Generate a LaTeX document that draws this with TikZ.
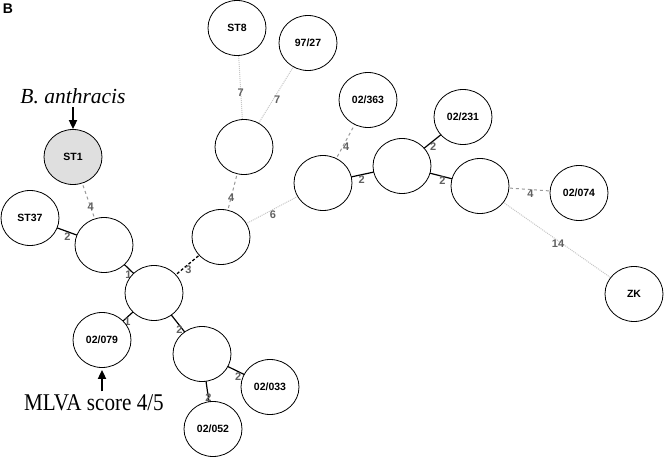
\documentclass[tikz,border=0pt]{standalone}
\usepackage{fontspec}
\setmainfont{Liberation Serif}
\setsansfont{Liberation Sans}
\usetikzlibrary{positioning, arrows.meta, shapes.geometric, backgrounds}

\begin{document}
\begin{tikzpicture}[x=1pt, y=-1pt,
    every isolate/.style={ellipse, draw, fill=white, line width=0.8pt, minimum width=58pt, minimum height=55pt, inner sep=0pt, font=\sffamily\bfseries\fontsize{10.5}{12}\selectfont},
    weight/.style={font=\sffamily\bfseries\fontsize{11}{12}\selectfont, text=gray!75!black, inner sep=0pt},
    close link/.style={line width=1.2pt, black},
    near link/.style={densely dashed, line width=1.3pt, black},
    mid link/.style={dashed, line width=1pt, gray!80},
    far link/.style={densely dotted, line width=1pt, gray!45},
    pointer/.style={-{Triangle[length=9pt, width=8pt]}, line width=1.8pt}]

    \useasboundingbox (0,0) rectangle (664,457);

    % Panel letter
    \node[font=\sffamily\bfseries\fontsize{14}{16}\selectfont] (panel) at (8,9) {B};

    % Reference strain - shaded node
    \node[every isolate, fill=gray!25] (st1) at (73,157) {ST1};

    % Named isolates
    \foreach \n/\x/\y/\t in {st37/30/218/ST37, o079/102/340/{02/079}, o033/270/387/{02/033},
        o052/213/429/{02/052}, st8/237/28/ST8, o9727/308/43/{97/27}, o363/368/100/{02/363},
        o231/463/117/{02/231}, o074/579/193/{02/074}, zk/634/294/ZK}
        \node[every isolate] (\n) at (\x,\y) {\t};

    % Unnamed nodes of the tree
    \foreach \n/\x/\y in {nA/104/245, hub/154/293, nB/202/354, nC/221/237,
        nD/244/147, nE/323/183, nF/402/166, nG/480/186}
        \node[every isolate] (\n) at (\x,\y) {};

    % Links with their distances
    \begin{scope}[on background layer]
    \foreach \a/\b/\s/\p/\w/\dx/\dy in {st1/nA/mid link/.57/4/0/0, st37/nA/close link/.52/2/-1/5,
        nA/hub/close link/.55/1/-3/3, hub/o079/close link/.55/1/2/3, hub/nB/close link/.57/2/-2/2,
        nB/o033/close link/.56/2/-2/4, nB/o052/close link/.58/2/0/0, hub/nC/near link/.47/3/3/3,
        nC/nD/mid link/.44/4/0/0, nC/nE/far link/.49/6/2/4, nD/st8/far link/.46/7/0/0,
        nD/o9727/far link/.47/7/3/2, nE/o363/mid link/.45/4/3/1, nE/nF/close link/.49/2/0/5,
        nF/o231/close link/.46/2/3/3, nF/nG/close link/.53/2/-1/4, nG/o074/mid link/.51/4/0/4,
        nG/zk/far link/.52/14/-2/2}
        \draw[\s] (\a.center) -- (\b.center)
            node[weight, pos=\p, xshift=\dx pt, yshift=-\dy pt] {\w};
    \end{scope}

    % Annotations
    \node[font=\itshape\fontsize{21.5}{24}\selectfont] (species) at (73,96) {B. anthracis};
    \draw[pointer] (species) -- (st1);

    \node (mlva) at (94,403) {\scalebox{0.88}[1]{\fontsize{24}{26}\selectfont MLVA score 4/5}};
    \draw[pointer, shorten >=2pt] (mlva.north -| o079.south) -- (o079.south);

\end{tikzpicture}
\end{document}
